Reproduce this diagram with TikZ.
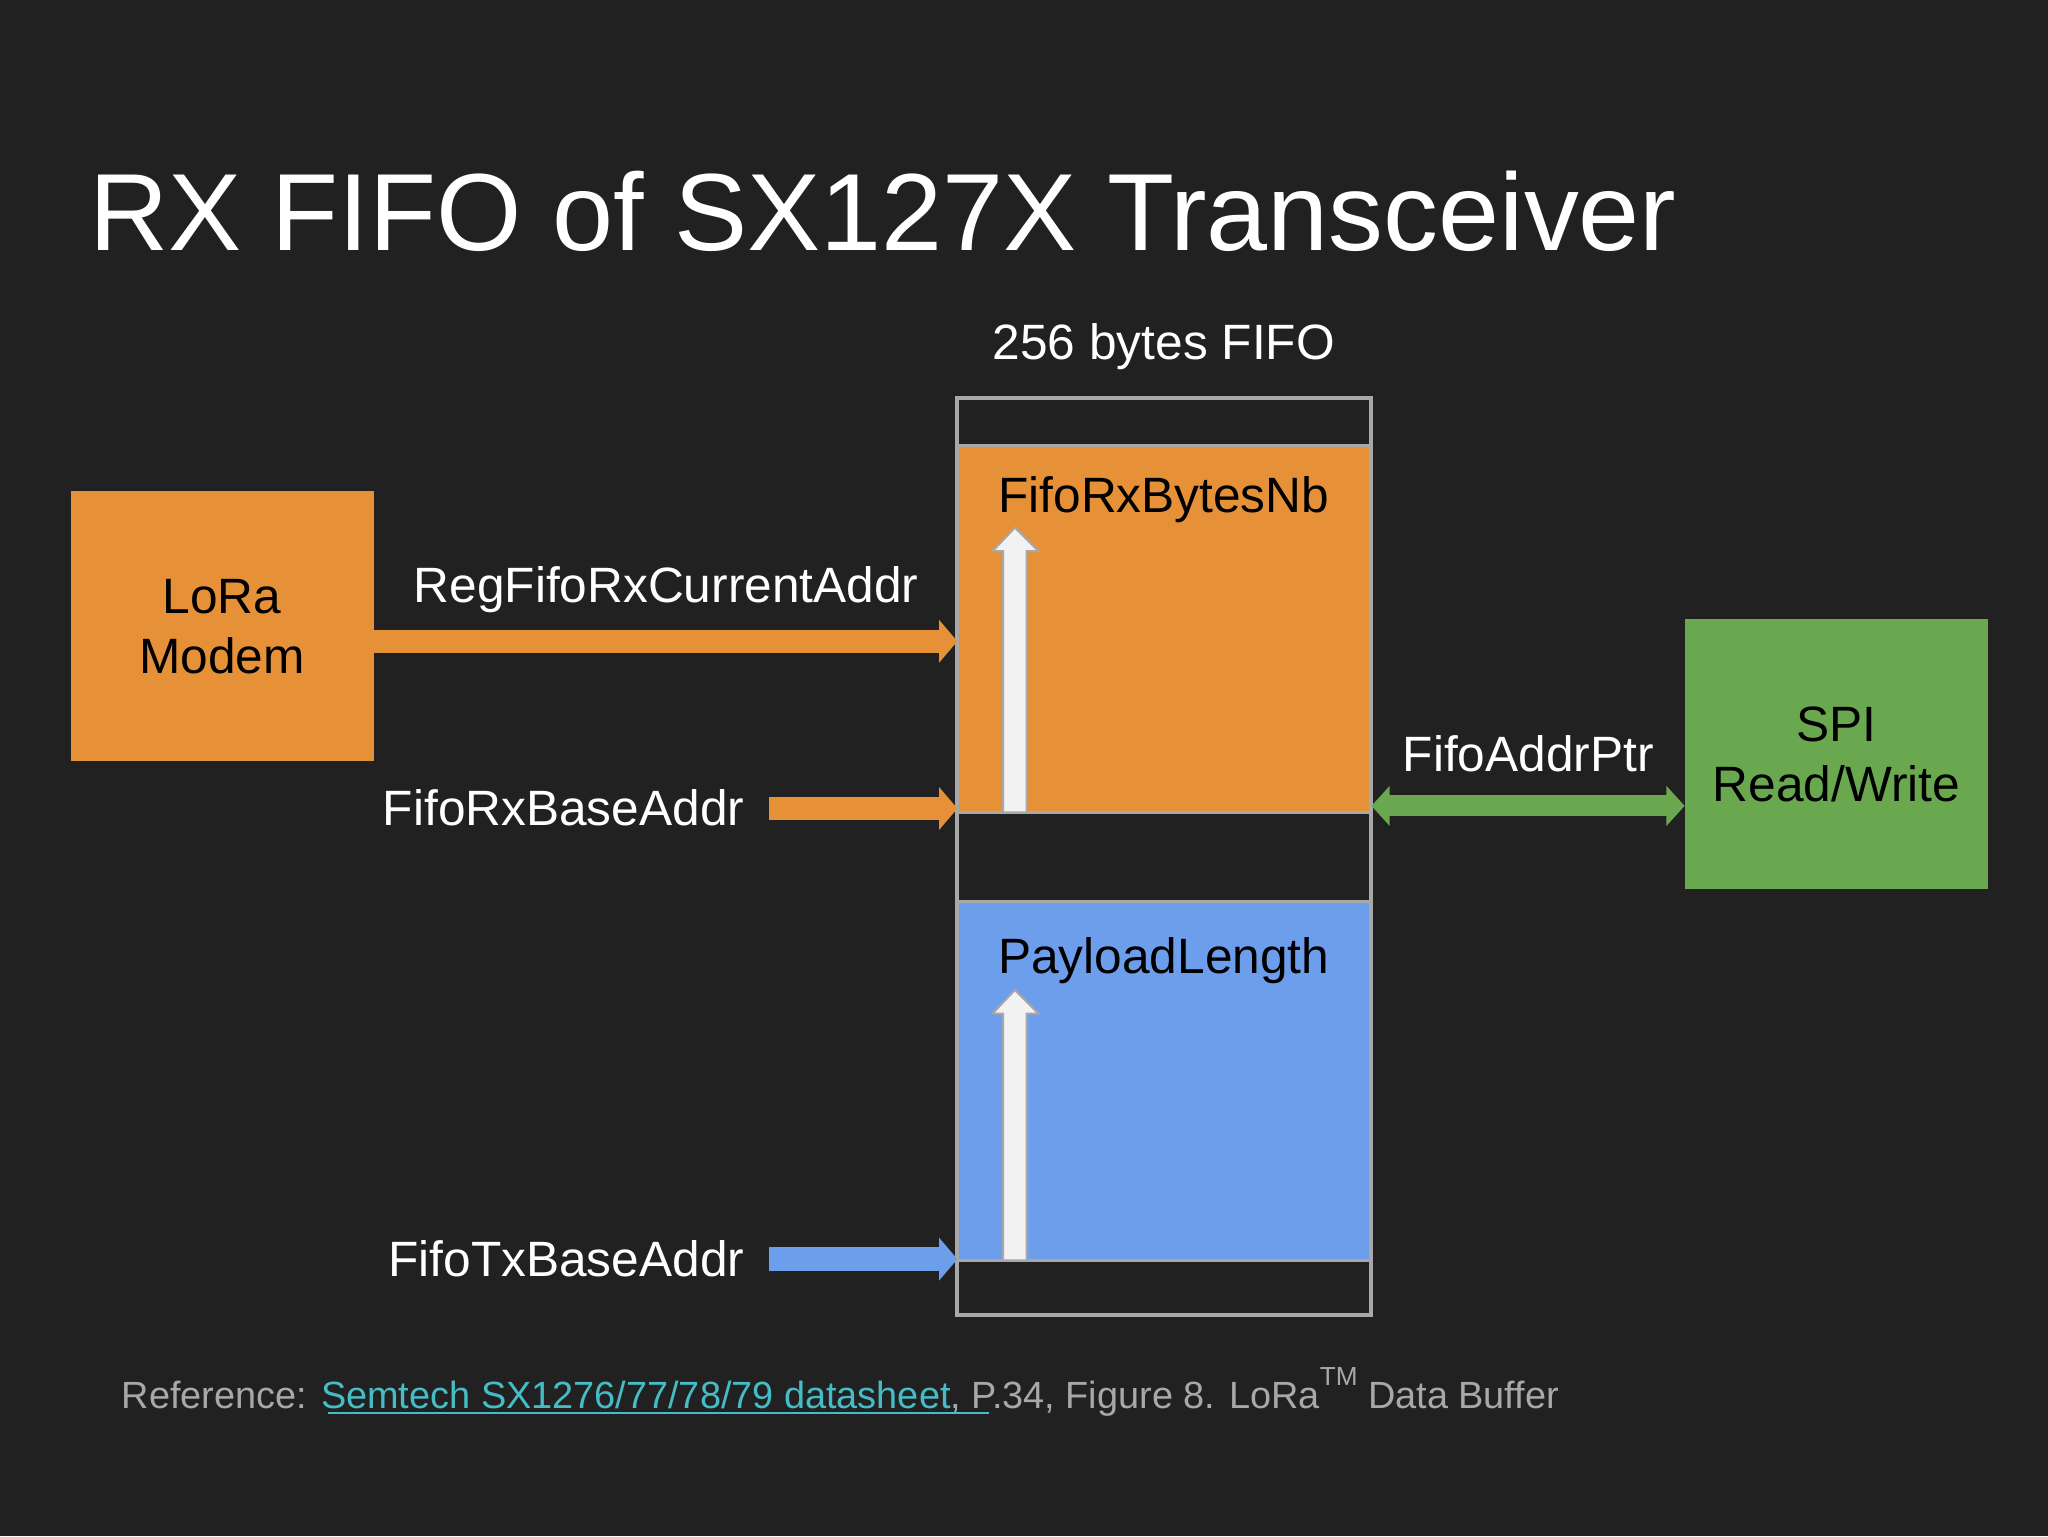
\documentclass[tikz,border=0pt]{standalone}
\usepackage{fontspec}
\setmainfont{Liberation Sans}
\usetikzlibrary{arrows.meta}
\definecolor{bg}{HTML}{212121}
\definecolor{org}{HTML}{E69138}
\definecolor{blu}{HTML}{6D9EEB}
\definecolor{grn}{HTML}{6AA84F}
\definecolor{lnk}{HTML}{46BDC6}
\definecolor{frame}{HTML}{A8A8A8}
\tikzset{
  lbl/.style={text=white,font=\fontsize{38}{44}\selectfont,inner sep=0pt},
  blk/.style={text=black,font=\fontsize{38}{46}\selectfont,align=center,inner sep=0pt},
  fat/.style={line width=18pt,-{Triangle[length=14pt,width=32pt]}},
  upar/.style={fill=white!95!black,draw=frame,line width=1.5pt},
}
\begin{document}
\begin{tikzpicture}[x=1pt,y=-1pt]
\fill[bg] (0,0) rectangle (1568,1176);
\useasboundingbox (0,0) rectangle (1568,1176);
\node[anchor=base west,text=white,font=\fontsize{84}{90}\selectfont,inner sep=0pt] (title) at (68,192) {RX FIFO of SX127X Transceiver};
\node[lbl,anchor=base] (fifolbl) at (891,275) {256 bytes FIFO};
% FIFO
\fill[org] (733,341) rectangle (1050,622);
\fill[blu] (733,690) rectangle (1050,965);
\draw[frame,line width=3pt] (733,305) rectangle (1050,1007);
\foreach \yy in {341,622,690,965} \draw[frame,line width=2.5pt] (733,\yy) -- (1050,\yy);
\coordinate (rxcur) at (733,491);
\coordinate (rxbase) at (733,619);
\coordinate (txbase) at (733,964);
\coordinate (fifoR) at (1050,617);
\node[blk,anchor=base] (rxnb) at (891,392) {FifoRxBytesNb};
\node[blk,anchor=base] (plen) at (891,745) {PayloadLength};
\draw[upar] (768,622) -- (768,422) -- (760,422) -- (777,404) -- (795,422) -- (786,422) -- (786,622) -- cycle;
\draw[upar] (768,965) -- (768,776) -- (760,776) -- (777,758) -- (795,776) -- (786,776) -- (786,965) -- cycle;
% LoRa modem
\node[fill=org,minimum width=232pt,minimum height=207pt,blk,inner sep=0pt] (lora) at (170,479.5) {LoRa\\Modem};
\draw[org,fat] (lora.east |- rxcur) -- (rxcur);
\node[lbl,anchor=base] (l1) at (510,461) {RegFifoRxCurrentAddr};
\node[lbl,anchor=base east] (l2) at (570,632) {FifoRxBaseAddr};
\coordinate (s2) at (589,619);
\draw[org,fat] (s2) -- (rxbase);
\node[lbl,anchor=base east] (l3) at (570,977) {FifoTxBaseAddr};
\coordinate (s3) at (589,964);
\draw[blu,fat] (s3) -- (txbase);
% SPI
\node[fill=grn,minimum width=232pt,minimum height=207pt,blk,inner sep=0pt] (spi) at (1406,577.5) {SPI\\Read/Write};
\draw[grn,line width=16pt,{Triangle[length=14pt,width=30pt]}-{Triangle[length=14pt,width=30pt]}] (fifoR) -- (fifoR -| spi.west);
\node[lbl,anchor=base] (l4) at (1170,591) {FifoAddrPtr};
% footer
\node[anchor=base west,inner sep=0pt,text=frame,font=\fontsize{29}{34}\selectfont] (ref) at (93,1078)
 {Reference: \textcolor{lnk}{Semtech SX1276/77/78/79 datasheet}, P.34, Figure 8. LoRa\raisebox{0.6em}{\fontsize{20}{22}\selectfont TM} Data Buffer};
\draw[lnk,line width=1.5pt] (251,1082) -- (757,1082);
\end{tikzpicture}
\end{document}
